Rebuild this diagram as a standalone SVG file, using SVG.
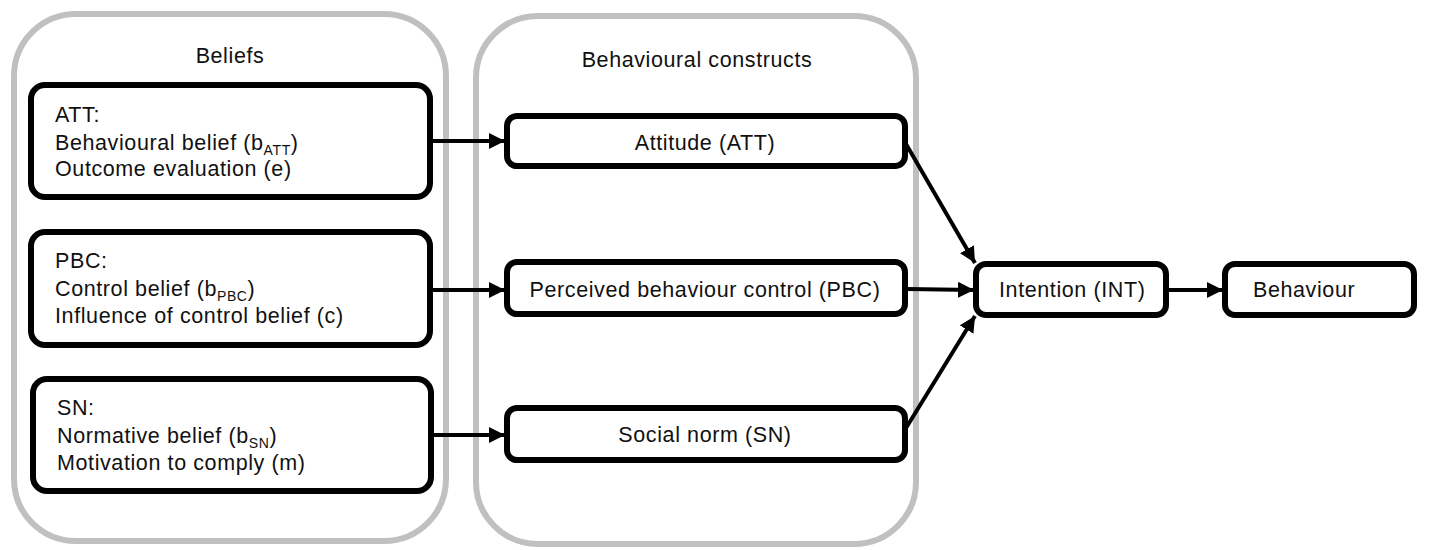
<svg xmlns="http://www.w3.org/2000/svg" width="1436" height="550" viewBox="0 0 1436 550">
<style>
.grp{fill:#fff;stroke:#c0c0c0;stroke-width:6}
.box{fill:#fff;stroke:#000;stroke-width:6}
text{font-family:"Liberation Sans",Arial,sans-serif;font-size:21.5px;letter-spacing:0.6px;fill:#111}
.c{text-anchor:middle}
.con{stroke:#000;stroke-width:4;fill:none}
</style>
<defs>
<marker id="ah" markerUnits="userSpaceOnUse" markerWidth="16" markerHeight="16" viewBox="0 0 16 16" refX="16" refY="8" orient="auto">
<path d="M0,0 L16,8 L0,16 Z" fill="#000"/>
</marker>
</defs>
<g id="beliefs-group">
<rect class="grp" x="14" y="14" width="432" height="527" rx="62"/>
<text class="c" x="230" y="63">Beliefs</text>
</g>
<g id="constructs-group">
<rect class="grp" x="476" y="16" width="440" height="528" rx="62"/>
<text class="c" x="697" y="67">Behavioural constructs</text>
</g>
<g id="att-beliefs">
<rect class="box" x="31" y="85" width="399" height="112" rx="14"/>
<text x="55" y="122">ATT:</text>
<text x="55" y="150">Behavioural belief (b<tspan font-size="14" dy="5">ATT</tspan><tspan dy="-5">)</tspan></text>
<text x="55" y="176">Outcome evaluation (e)</text>
</g>
<g id="pbc-beliefs">
<rect class="box" x="31" y="232" width="399" height="113" rx="14"/>
<text x="55" y="268">PBC:</text>
<text x="55" y="296">Control belief (b<tspan font-size="14" dy="5">PBC</tspan><tspan dy="-5">)</tspan></text>
<text x="55" y="323">Influence of control belief (c)</text>
</g>
<g id="sn-beliefs">
<rect class="box" x="33" y="379" width="398" height="112" rx="14"/>
<text x="57" y="415">SN:</text>
<text x="57" y="443">Normative belief (b<tspan font-size="14" dy="5">SN</tspan><tspan dy="-5">)</tspan></text>
<text x="57" y="470">Motivation to comply (m)</text>
</g>
<g id="attitude">
<rect class="box" x="507" y="116" width="398" height="50" rx="10"/>
<text class="c" x="705" y="150">Attitude (ATT)</text>
</g>
<g id="pbc">
<rect class="box" x="507" y="262" width="398" height="52" rx="10"/>
<text class="c" x="705" y="297">Perceived behaviour control (PBC)</text>
</g>
<g id="sn">
<rect class="box" x="507" y="408" width="398" height="52" rx="10"/>
<text class="c" x="705" y="442">Social norm (SN)</text>
</g>
<g id="intention">
<rect class="box" x="976" y="264" width="190" height="51" rx="10"/>
<text x="999" y="297">Intention (INT)</text>
</g>
<g id="behaviour">
<rect class="box" x="1225" y="264" width="189" height="51" rx="10"/>
<text x="1253" y="297">Behaviour</text>
</g>
<g id="connectors">
<line class="con" x1="433" y1="141" x2="505" y2="141" marker-end="url(#ah)"/>
<line class="con" x1="433" y1="290" x2="505" y2="290" marker-end="url(#ah)"/>
<line class="con" x1="434" y1="435" x2="505" y2="435" marker-end="url(#ah)"/>
<line class="con" x1="906" y1="144" x2="975" y2="263" marker-end="url(#ah)"/>
<line class="con" x1="907" y1="289" x2="974" y2="290" marker-end="url(#ah)"/>
<line class="con" x1="906" y1="428" x2="975" y2="316" marker-end="url(#ah)"/>
<line class="con" x1="1168" y1="290" x2="1223" y2="290" marker-end="url(#ah)"/>
</g>
</svg>
